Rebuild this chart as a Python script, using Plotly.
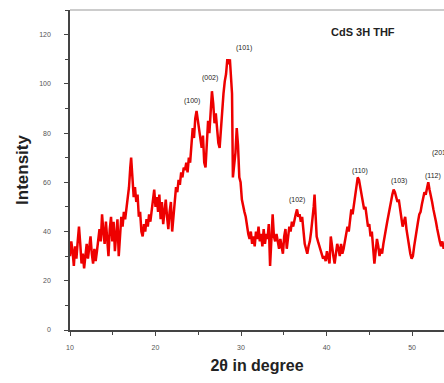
import plotly.graph_objects as go

two_theta = [
    10.0, 10.15, 10.3, 10.45, 10.6, 10.75, 10.9, 11.05, 11.2, 11.35, 11.5, 11.65, 11.8, 11.95,
    12.1, 12.25, 12.4, 12.55, 12.7, 12.85, 13.0, 13.15, 13.3, 13.45, 13.6, 13.75, 13.9, 14.05,
    14.2, 14.35, 14.5, 14.65, 14.8, 14.95, 15.1, 15.25, 15.4, 15.55, 15.7, 15.85, 16.0, 16.15,
    16.3, 16.45, 16.6, 16.75, 16.9, 17.05, 17.15, 17.3, 17.45, 17.6, 17.75, 17.9, 18.05, 18.2,
    18.35, 18.5, 18.65, 18.8, 18.95, 19.1, 19.25, 19.4, 19.55, 19.7, 19.85, 20.0, 20.15, 20.3,
    20.45, 20.6, 20.75, 20.9, 21.05, 21.2, 21.35, 21.5, 21.65, 21.8, 21.95, 22.1, 22.25, 22.4,
    22.55, 22.7, 22.85, 23.0, 23.15, 23.3, 23.45, 23.6, 23.75, 23.9, 24.05, 24.2, 24.35, 24.5,
    24.65, 24.8, 24.95, 25.1, 25.25, 25.4, 25.55, 25.7, 25.85, 26.0, 26.15, 26.3, 26.45, 26.6,
    26.75, 26.9, 27.05, 27.2, 27.35, 27.5, 27.65, 27.8, 27.95, 28.1, 28.25, 28.4, 28.55, 28.7,
    28.85, 28.95, 29.05, 29.2, 29.35, 29.5, 29.65, 29.8, 29.95, 30.1, 30.25, 30.4, 30.55, 30.7,
    30.85, 31.0, 31.15, 31.3, 31.45, 31.6, 31.75, 31.9, 32.05, 32.2, 32.35, 32.5, 32.65, 32.8,
    32.95, 33.1, 33.25, 33.4, 33.55, 33.7, 33.85, 34.0, 34.15, 34.3, 34.45, 34.6, 34.75, 34.9,
    35.05, 35.2, 35.35, 35.5, 35.65, 35.8, 35.95, 36.1, 36.25, 36.4, 36.55, 36.7, 36.85, 37.0,
    37.15, 37.3, 37.45, 37.6, 37.75, 37.9, 38.05, 38.2, 38.35, 38.5, 38.6, 38.7, 38.85, 39.0,
    39.15, 39.3, 39.45, 39.6, 39.75, 39.9, 40.05, 40.2, 40.35, 40.5, 40.65, 40.8, 40.95, 41.1,
    41.25, 41.4, 41.55, 41.7, 41.85, 42.0, 42.15, 42.3, 42.45, 42.6, 42.75, 42.9, 43.05, 43.2,
    43.35, 43.5, 43.65, 43.8, 43.95, 44.1, 44.25, 44.4, 44.55, 44.7, 44.85, 45.0, 45.15, 45.3,
    45.45, 45.6, 45.75, 45.9, 46.05, 46.2, 46.35, 46.5, 46.65, 46.8, 46.95, 47.1, 47.25, 47.4,
    47.55, 47.7, 47.85, 48.0, 48.15, 48.3, 48.45, 48.6, 48.75, 48.9, 49.05, 49.2, 49.35, 49.5,
    49.65, 49.8, 49.95, 50.1, 50.25, 50.4, 50.55, 50.7, 50.85, 51.0, 51.15, 51.3, 51.45, 51.6,
    51.75, 51.9, 52.05, 52.2, 52.35, 52.5, 52.65, 52.8, 52.95, 53.1, 53.25, 53.4, 53.55, 53.7,
    53.85,
]

intensity = [
    30, 36, 32, 26, 34, 29, 36, 42, 35, 27, 31, 25, 30, 35,
    29, 34, 38, 31, 27, 33, 28, 32, 38, 41, 36, 47, 40, 35,
    44, 38, 30, 41, 46, 36, 44, 32, 38, 45, 30, 39, 46, 42,
    48, 45, 50, 53, 58, 66, 70, 62, 54, 58, 52, 55, 46, 48,
    40, 38, 43, 40, 45, 42, 47, 44, 49, 52, 57, 50, 54, 48,
    55, 45, 52, 43, 50, 53, 46, 41, 48, 52, 40, 47, 55, 58,
    56, 61, 59, 64, 62, 66, 65, 68, 64, 70, 68, 76, 82, 78,
    86, 89, 85, 80, 76, 74, 79, 68, 66, 74, 85, 80, 88, 97,
    92, 84, 88, 82, 76, 74, 82, 90, 96, 101, 104, 110, 108, 110,
    102, 96, 62, 66, 72, 82, 75, 62, 60, 53, 50, 48, 46, 42,
    39, 37, 40, 35, 38, 34, 40, 37, 42, 36, 39, 34, 41, 35,
    39, 37, 43, 26, 40, 47, 38, 36, 39, 35, 33, 37, 34, 31,
    38, 41, 33, 37, 42, 40, 44, 42, 45, 47, 49, 46, 47, 44,
    46, 40, 35, 33, 31, 34, 36, 40, 44, 50, 55, 46, 38, 36,
    34, 32, 31, 29, 30, 28, 32, 30, 27, 38, 33, 30, 27, 32,
    35, 33, 30, 35, 31, 33, 36, 39, 42, 40, 46, 49, 47, 51,
    55, 58, 62, 61, 57, 55, 52, 49, 50, 45, 42, 43, 38, 40,
    33, 27, 32, 37, 34, 30, 33, 31, 35, 39, 41, 44, 47, 50,
    52, 55, 57, 56, 54, 52, 53, 49, 45, 42, 44, 46, 41, 37,
    34, 31, 29, 30, 34, 38, 42, 44, 47, 48, 51, 53, 56, 55,
    58, 60, 57, 55, 52, 49, 47, 44, 41, 38, 36, 34, 36, 33,
    35,
]

peak_labels = ["(100)", "(002)", "(101)", "(102)", "(110)", "(103)", "(112)", "(201)"]
peak_x = [24.3, 26.4, 30.4, 36.6, 43.9, 48.5, 52.5, 53.3]
peak_y = [93, 102.5, 114.7, 53, 64.5, 60.4, 62.4, 72]

x_ticks = [10, 20, 30, 40, 50]
y_ticks = [0, 20, 40, 60, 80, 100, 120]

sample_label = "CdS 3H THF"

fig = go.Figure()
fig.add_trace(go.Scatter(
    x=two_theta, y=intensity, mode="lines",
    line=dict(color="#ee0000", width=2.5),
    showlegend=False,
))

for lab, px, py in zip(peak_labels, peak_x, peak_y):
    fig.add_annotation(x=px, y=py, text=lab, showarrow=False,
                       font=dict(family="Arial, Liberation Sans", size=7, color="#222222"))

fig.add_annotation(x=0.875, y=0.955, xref="paper", yref="paper", text=sample_label,
                   showarrow=False,
                   font=dict(family="Arial, Liberation Sans", size=11, color="#222222", weight="bold"))

fig.add_shape(type="line", xref="paper", yref="paper", x0=0, x1=1, y0=1, y1=1,
              line=dict(color="#999999", width=1))

axis_font = dict(family="Arial, Liberation Sans", size=7, color="#555555")

fig.update_xaxes(
    range=[10, 53.74], tickvals=x_ticks, ticktext=[str(v) for v in x_ticks],
    ticks="outside", ticklen=4, tickwidth=1, tickcolor="#444444",
    minor=dict(ticks="outside", ticklen=3, tickcolor="#444444", dtick=5, tick0=5),
    showline=True, linecolor="#444444", linewidth=1.5,
    showgrid=False, zeroline=False, tickfont=axis_font, ticklabelstandoff=6,
    title=dict(text="2θ in degree", standoff=10,
               font=dict(family="Arial, Liberation Sans", size=16, color="#222222", weight="bold")),
)
fig.update_yaxes(
    range=[0, 130], tickvals=y_ticks, ticktext=[str(v) for v in y_ticks],
    ticks="outside", ticklen=4, tickwidth=1, tickcolor="#444444",
    minor=dict(ticks="outside", ticklen=3, tickcolor="#444444", dtick=10, tick0=10),
    showline=True, linecolor="#444444", linewidth=1.5,
    showgrid=False, zeroline=False, tickfont=axis_font, ticklabelstandoff=12,
    title=dict(text="Intensity", standoff=6,
               font=dict(family="Arial, Liberation Sans", size=17, color="#222222", weight="bold")),
)

fig.update_layout(
    width=444, height=383,
    margin=dict(l=70, r=0, t=10, b=53),
    plot_bgcolor="white", paper_bgcolor="white",
)

fig.write_html("out.html")
